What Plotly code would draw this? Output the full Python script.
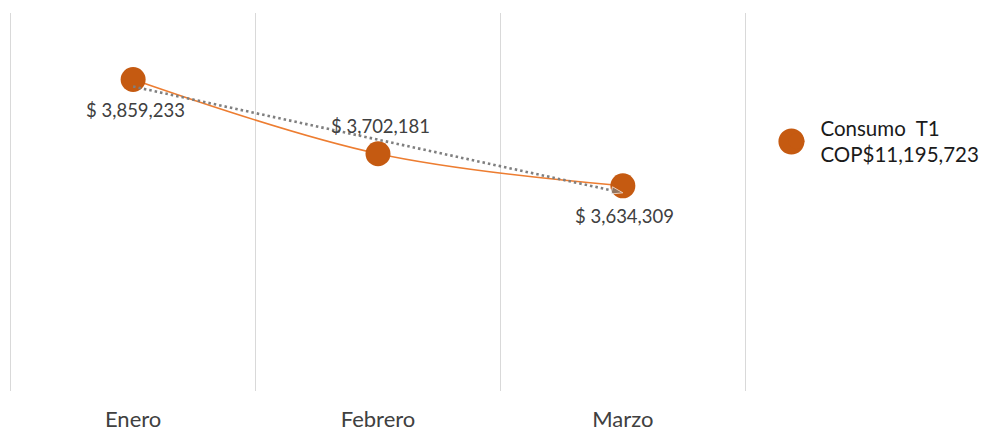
import plotly.graph_objects as go
import numpy as np

# Datos
meses = ["Enero", "Febrero", "Marzo"]
consumo = [3859233, 3702181, 3634309]
serie = "Consumo  T1"

total = sum(consumo)
etiquetas = [f"$ {v:,}" for v in consumo]

# linear trend (like Excel's trendline)
idx = np.arange(len(consumo))
m, b = np.polyfit(idx, consumo, 1)
tendencia = m * idx + b

# grid lines between categories, and at both ends
limites = np.arange(len(meses) + 1) - 0.5

FONT = "Lato"
NARANJA = "#C55A11"

fig = go.Figure()

# smooth line
fig.add_trace(go.Scatter(
    x=idx, y=consumo,
    mode="lines",
    line=dict(color="#ED7D31", width=1.6, shape="spline"),
    showlegend=False,
    hoverinfo="skip",
))

# markers
fig.add_trace(go.Scatter(
    x=idx, y=consumo,
    mode="markers",
    marker=dict(color=NARANJA, size=25),
    name=f"{serie}<br>COP${total:,}",
))

# trendline, dotted with arrow end (drawn over the markers)
fig.add_trace(go.Scatter(
    x=idx, y=tendencia,
    mode="lines+markers",
    line=dict(color="#7F7F7F", width=2.6, dash="2.5px,3px"),
    marker=dict(symbol="arrow", angleref="previous", size=[0, 0, 12],
                color="#7F7F7F"),
    showlegend=False,
    hoverinfo="skip",
))

# data labels
desplaz = [-30, 28, -30]
for i, val, txt, dy in zip(idx, consumo, etiquetas, desplaz):
    fig.add_annotation(
        x=i, y=val, text=txt, showarrow=False,
        yshift=dy, xshift=2,
        font=dict(family=FONT, size=18.5, color="#404040"),
    )

LEG_X, LEG_Y = 1.033, 0.66

# legend symbol is capped in size by plotly, so enlarge it with a circle
fig.add_shape(
    type="circle", xref="paper", yref="paper",
    xsizemode="pixel", ysizemode="pixel",
    xanchor=LEG_X, yanchor=LEG_Y,
    x0=6, x1=32, y0=-13, y1=13,
    fillcolor=NARANJA, line_width=0, layer="above",
)

# page body has an 8px margin, so the figure is 8px smaller
fig.update_layout(
    width=982, height=426,
    margin=dict(l=0, r=242, t=5, b=43, pad=0, autoexpand=False),
    paper_bgcolor="white",
    plot_bgcolor="white",
    font=dict(family=FONT),
    legend=dict(
        x=LEG_X, y=LEG_Y, xanchor="left", yanchor="middle",
        font=dict(family=FONT, size=20.5, color="#1A1A1A"),
        itemsizing="trace",
        itemwidth=38,
        bgcolor="rgba(0,0,0,0)",
    ),
)

fig.update_xaxes(
    range=[-0.511, 2.511],
    tickmode="array", tickvals=idx, ticktext=meses,
    showgrid=False,
    minor=dict(tickmode="array", tickvals=limites, showgrid=True,
               gridcolor="#D9D9D9", gridwidth=1, ticks=""),
    showline=False, zeroline=False,
    ticks="",
    automargin=False,
    ticklabelstandoff=13,
    tickfont=dict(family=FONT, size=22, color="#404040"),
)
fig.update_yaxes(
    range=[3200000, 4000000],
    showgrid=False, zeroline=False, showline=False,
    showticklabels=False, ticks="",
    automargin=False,
)

fig.write_html("out.html")
